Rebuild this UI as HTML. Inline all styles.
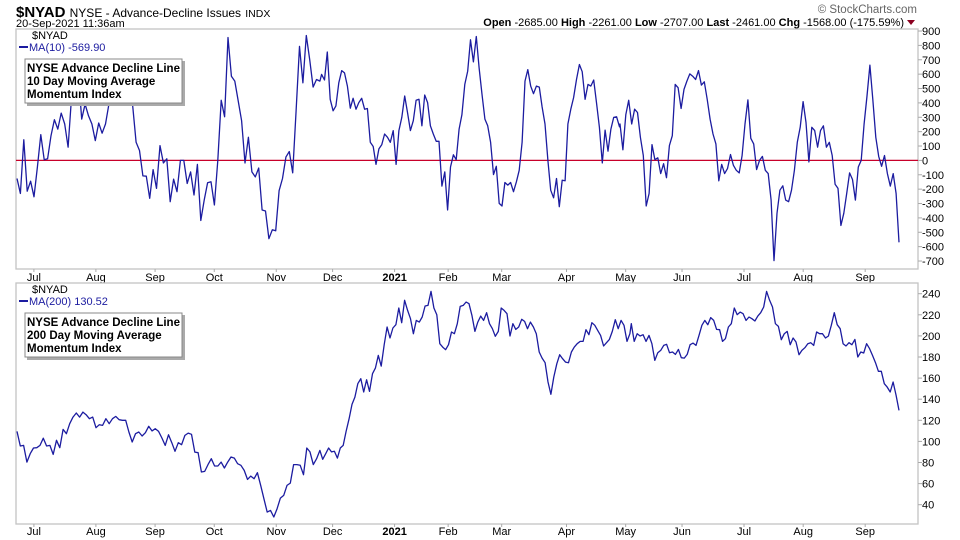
<!DOCTYPE html>
<html><head><meta charset="utf-8">
<style>
body{margin:0;background:#fff;}
svg{display:block;font-family:"Liberation Sans",sans-serif;}
</style></head>
<body>
<svg id="c" width="960" height="540" viewBox="0 0 960 540">
  <text x="16" y="17" font-size="15" font-weight="bold" fill="#000">$NYAD <tspan font-size="12" font-weight="normal">NYSE - Advance-Decline Issues</tspan> <tspan font-size="10.5" font-weight="normal">INDX</tspan></text>
  <text x="16" y="27" font-size="11" fill="#000">20-Sep-2021 11:36am</text>
  <text x="917" y="13" font-size="11.5" fill="#666" text-anchor="end">© StockCharts.com</text>
  <text x="904" y="26" font-size="11" fill="#000" text-anchor="end"><tspan font-weight="bold">Open</tspan> -2685.00 <tspan font-weight="bold">High</tspan> -2261.00 <tspan font-weight="bold">Low</tspan> -2707.00 <tspan font-weight="bold">Last</tspan> -2461.00 <tspan font-weight="bold">Chg</tspan> -1568.00 (-175.59%)</text>
  <polygon points="907,20 915,20 911,25" fill="#8b0020"/>
  <g id="top"></g>
  <g id="bot"></g>
</svg>
<script>
// Top panel: MA(10), three date segments (trading-day ranges)
const topSeg1=[-126,-230,143,-214,-145,-253,-46,179,5,11,172,283,218,329,253,92,437,550,600,287,391,310,253,138,260,189,253,391,500,620,700,640,560,470,379,126,69,-108,-110,-264,-64,-195,103,-18,11,-287,-131,-218,0,0,-161,-80,-241,-28,-418,-276,-156,-149,-310,0,418,303,855,586,552,414,276,-18,161,-80,-115,-53,-345,-352,-545,-483,-490,-211,-126,23,62,-87,345,793,540,869,701,510,563,552];
const topSeg2=[598,559,754,425,345,379,540,625,609,517,363,432,356,402,432,356,361,126,97,-28,80,110,184,161,126,207,-28,207,299,448,333,207,276,418,425,241,455,402,241,184,133,133,-179,-80,-345,-46,39,5,218,317,529,621,839,685,862,644,460,287,241,126,-99,-41,-299,-317,-154,-172,-154,-218,-149,-69,126,552,632,517,464,517,510,372,253,0,-207,-260,-126,-322,-138,-142,253,356,437,563,667,617,425,529,517,559,395,230,-18,211,64,218,299,303,234];
const topSeg3=[253,74,317,418,253,356,333,161,34,-317,-230,110,5,18,-92,-23,-120,103,172,529,506,361,494,552,602,586,563,625,524,547,425,287,184,115,-142,-28,-92,-57,41,-34,-69,-87,34,253,421,154,115,-64,0,28,-69,-92,-276,-697,-368,-207,-177,-276,-287,-207,-69,126,230,409,264,-11,230,207,92,207,241,92,126,34,-166,-195,-453,-368,-230,-87,-133,-276,-46,0,253,448,662,425,161,28,-41,34,-92,-179,-92,-230,-570];
const topSegDays=[[0,107.5],[108.1,213.8],[214,313]];
// Bottom panel: MA(200)
const botSeg1=[109.5,95.6,96.2,80.4,88.3,93.7,94,96.2,103,95.6,96.2,87.7,101,94,111.4,107.3,116.8,123,126.9,123,127.8,125.3,121.5,123,113,115.8,115.2,121.5,116.8,121.5,123.7,120.6,120,120,108.9,99.4,107.3,108.9,105.1,108.2,114.3,110,112,109.5,103.2,96.2,106.3,98.8,90.6,98.8,96.9,105.7,107.9,106.7,89.9,89.3,71,71.6,78,83.6,76.7,76.7,80.4,74.8,80.4,85.2,84.2,78.9,77.3,72.5,64,67.1,64.6,70.3,58.3,45.7,33,34.6,28.3,36.2,46.3,48.8,58.3,60.5,78,78,77.3,68.4,93.7,90,78,83.6,91.5];
const botSeg2=[83,88.3,93.7,90,90.6,84.2,93.7,96.2,109.5,121.5,135.1,142,154.7,159.4,146.8,158.4,147.4,164.2,169.5,181.5,171.4,191.7,208.4,198,207.5,210.6,226.4,212.5,233.7,224.2,216.3,202.1,214.7,213.1,217.9,228.3,228.9,242.2,226.4,220.1,192.6,189.4,186.9,191.7,203.7,202.1,211.6,228,228.9,232.1,230.5,219.5,204.3,213.1,218.8,214.7,222,211.6,206.8,199.6,204.3,226.4,224.2,221,199.9,211.6,206.2,208.4,215.7,213.7,206.8,213.1,208.4,202.1,184.7,179,174.6,156.3,144.6,161,173.6,182.2,178.4,175.2,174.6,184.7,189.4,192.6,194.8,194.8,205.9,201.1,212.5,210,205.2,200.5,190.4,193.6,196.7,204.3,215.4,206.8,214.7,210,194.8,202.1];
const botSeg3=[211.6,194.8,202.1,199.9,201.1,194.8,200.5,192.6,176.8,184.1,186.3,191,192,184.1,184.7,182.5,187.2,179.3,179,182.5,191.7,193.2,191,200.5,210,214.7,210.6,217.3,214.7,206.2,205.9,194.8,197.3,208.4,211.6,226.4,220.1,222.6,221,214.7,217.9,216.3,214.1,218.8,222,227.4,242.2,233.7,227.4,211.6,209,196.4,202.1,204.3,191.7,198,194.2,182.2,186.3,188.8,192.6,193.6,191,203.7,202.1,202.1,198,199.9,210,222,210.6,206.8,192.6,190.4,193.6,191.7,196.7,180,184.7,183.8,192.6,187.9,181.5,174.6,166.4,166.4,154.7,151.5,146.8,156.3,143.6,129.4];
const botSegDays=[[0,107.5],[108.5,217.5],[218,313]];
const monthLabels=["Jul","Aug","Sep","Oct","Nov","Dec","2021","Feb","Mar","Apr","May","Jun","Jul","Aug","Sep"];
const monthDays=[6,28,49,70,92,112,134,153,172,195,216,236,258,279,301];
const topTicks=[900,800,700,600,500,400,300,200,100,0,-100,-200,-300,-400,-500,-600,-700];
const botTicks=[240,220,200,180,160,140,120,100,80,60,40];
const totalDays=313;

const NS="http://www.w3.org/2000/svg";
const L=16,R=918,X0=17,X1=899;
function xDay(d){return X0+d*(X1-X0)/totalDays;}
function mk(p,tag,attrs){const e=document.createElementNS(NS,tag);for(const k in attrs)e.setAttribute(k,attrs[k]);p.appendChild(e);return e;}

function panel(g,top,bottom,segs,segDays,ticks,yfn,legend,box,zero,axisY,prefix){
  const bg=mk(g,'rect',{x:L,y:top,width:R-L,height:bottom-top,fill:'#fff',stroke:'#c4c4c4','stroke-width':1.3});
  
  
  ticks.forEach(t=>{
    const y=yfn(t);
    const tk=mk(g,'line',{x1:R,x2:R+4,y1:y,y2:y,stroke:'#aaa'});
    
    
    const tx=mk(g,'text',{x:922,y:y+4,'font-size':11,fill:'#000'});
    tx.textContent=t;
    
    
  });
  if(zero){
    const z=mk(g,'line',{x1:L,x2:R,y1:yfn(0),y2:yfn(0),stroke:'#c8002a','stroke-width':1.2});
    
    
  }
  monthDays.forEach((d,i)=>{
    const x=xDay(d);
    const tk=mk(g,'line',{x1:x,x2:x,y1:bottom,y2:bottom+3,stroke:'#aaa'});
    
    
    const tx=mk(g,'text',{x:x,y:axisY,'font-size':11,'text-anchor':'middle',fill:'#000'});
    if(monthLabels[i]==='2021')tx.setAttribute('font-weight','bold');
    tx.textContent=monthLabels[i];
    
    
  });
  const pts=[];
  segs.forEach((vals,s)=>{
    const a=segDays[s][0],b=segDays[s][1],n=vals.length;
    vals.forEach((v,i)=>{pts.push(xDay(a+(b-a)*i/(n-1)).toFixed(1)+','+yfn(v).toFixed(1));});
  });
  const pl=mk(g,'polyline',{points:pts.join(' '),fill:'none',stroke:'#1c1ca0','stroke-width':1.3,'stroke-linejoin':'round'});
  
  
  const l1=mk(g,'text',{x:32,y:top+10,'font-size':11,fill:'#000'});
  l1.textContent='$NYAD';
  
  
  const ll=mk(g,'line',{x1:19,x2:28,y1:top+18,y2:top+18,stroke:'#1c1ca0','stroke-width':2});
  
  
  const l2=mk(g,'text',{x:29,y:top+22,'font-size':11,fill:'#1c1ca0'});
  l2.textContent=legend;
  
  
  const sh=mk(g,'rect',{x:27,y:top+32,width:158,height:45,fill:'#aaa'});
  
  
  const bx=mk(g,'rect',{x:25,y:top+30,width:157,height:44,fill:'#fff',stroke:'#888'});
  
  
  box.forEach((s,i)=>{
    const t=mk(g,'text',{x:27,y:top+43+i*13,'font-size':11.5,'font-weight':'bold',fill:'#000'});
    t.textContent=s;
    
    
  });
}
const yTop=v=>160.4-v*0.14375;
const yBot=v=>293.7+(240-v)*1.055;
panel(document.getElementById('top'),29,269,[topSeg1,topSeg2,topSeg3],topSegDays,topTicks,yTop,'MA(10) -569.90',['NYSE Advance Decline Line','10 Day Moving Average','Momentum Index'],true,281,'top');
panel(document.getElementById('bot'),283,524,[botSeg1,botSeg2,botSeg3],botSegDays,botTicks,yBot,'MA(200) 130.52',['NYSE Advance Decline Line','200 Day Moving Average','Momentum Index'],false,535,'bottom');
</script>
</body></html>
